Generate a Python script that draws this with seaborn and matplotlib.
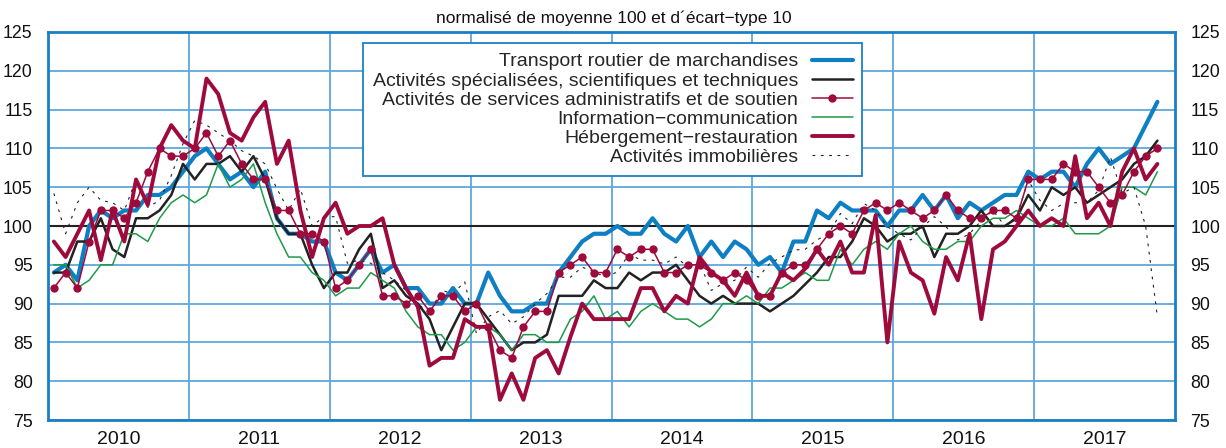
import matplotlib
matplotlib.use("Agg")
import matplotlib.pyplot as plt
import seaborn as sns
import pandas as pd

# ---------------- data (monthly, Jan 2010 - Nov 2017) ----------------
year_labels = ["2010", "2011", "2012", "2013", "2014", "2015", "2016", "2017"]

transport = [94, 95, 93, 100, 102, 101, 102, 102, 104, 104, 105, 107, 109, 110, 108, 106,
             107, 105, 107, 101, 99, 99, 98, 98, 94, 93, 95, 97, 94, 95, 92, 92,
             90, 90, 92, 90, 90, 94, 91, 89, 89, 90, 90, 94, 96, 98, 99, 99,
             100, 99, 99, 101, 99, 98, 100, 96, 98, 96, 98, 97, 95, 96, 94, 98,
             98, 102, 101, 103, 102, 102, 102, 100, 102, 102, 104, 102, 104, 101, 103, 102,
             103, 104, 104, 107, 106, 107, 107, 105, 108, 110, 108, 109, 110, 113, 116]

specialisees = [94, 94, 98, 98, 101, 97, 96, 101, 101, 102, 104, 108, 106, 108, 108, 109,
                107, 109, 106, 101, 99, 99, 95, 92, 94, 94, 97, 99, 92, 93, 91, 90,
                88, 84, 87, 90, 90, 88, 86, 84, 85, 85, 86, 91, 91, 91, 93, 92,
                92, 94, 93, 94, 94, 95, 93, 91, 90, 91, 90, 90, 90, 89, 90, 91,
                92.5, 94, 96, 96, 98, 101, 100, 98, 99, 99, 100, 96, 99, 99, 100, 102,
                100, 100, 101, 104, 102, 105, 104, 105, 103, 104, 105, 106, 108, 109, 111]

admin = [92, 94, 92, 98, 102, 102, 101, 103, 107, 110, 109, 109, 110, 112, 109, 111,
         108, 106, 106, 102, 102, 99, 99, 98, 92, 93, 95, 97, 91, 91, 90, 91,
         89, 91, 91, 89, 90, 87, 84, 83, 87, 89, 89, 94, 95, 96, 94, 94,
         97, 96, 97, 97, 94, 94, 95, 95, 94, 93, 94, 93, 91, 91, 94, 95,
         95, 97, 99, 100, 99, 102, 103, 102, 103, 102, 101, 102, 104, 102, 101, 101,
         102, 102, 101, 106, 106, 106, 108, 107, 107, 105, 103, 104, 107, 109, 110]

info_comm = [95, 95, 92, 93, 95, 95, 99, 99, 98, 101, 103, 104, 103, 104, 108, 105,
             106, 108, 103, 99, 96, 96, 94, 93, 91, 92, 92, 94, 93, 92, 89, 87,
             86, 86, 84, 85, 87, 87, 86, 84, 86, 86, 85, 85, 88, 89, 91, 88,
             89, 87, 89, 90, 89, 88, 88, 87, 88, 90, 90, 91, 90, 92, 92, 93,
             94, 93, 93, 97, 95, 97, 98, 97, 99, 100, 98, 97, 97, 98, 98, 100,
             101, 101, 102, 101, 100, 100, 101, 99, 99, 99, 100, 105, 105, 104, 107]

hebergement = [98, 96, 99, 102, 95.6, 102, 98, 106, 102.7, 110, 113, 111, 110, 119, 117, 112,
               111, 114, 116, 108, 111, 102, 96, 101, 103, 99, 100, 100, 101, 95, 92, 89.6,
               82, 83, 83, 88, 87, 87, 77.6, 81, 77.6, 83, 84, 81, 85.7, 90, 88, 88,
               88, 88, 92, 92, 89, 91, 90, 96, 94, 93, 91, 94, 91, 91, 94, 93,
               94.5, 97, 95, 98, 94, 94, 101.4, 85, 98, 94, 93, 88.7, 96, 93, 99, 88,
               97, 98, 100, 102, 100, 101, 100, 109, 101, 103, 100, 107, 110, 106, 108]

immobilieres = [104.2, 99, 103, 105, 103.3, 103, 102, 106, 102.4, 103.3, 106.5, 110.6, 113.6, 113, 112, 111,
                109.7, 109, 108, 104.8, 102, 104.8, 100, 101.2, 101.2, 95.2, 95.6, 95.2, 94, 93, 91.7, 90,
                88.7, 91.7, 91.3, 92.8, 86.1, 88.3, 89.1, 87.4, 88.3, 90, 91.3, 93.4, 93.4, 94.7, 94.1, 93.4,
                94.1, 96.4, 95.6, 95.6, 95.1, 96, 94.7, 95.2, 91.7, 92.6, 93, 94.7, 93.4, 95.2, 96, 96.9,
                97, 98.2, 99, 101.6, 100.3, 102.9, 102, 99.9, 99, 98.2, 99.9, 101.2, 99.9, 98.2, 99, 100.7,
                102, 100, 101.2, 105.9, 103.3, 102, 102.9, 103, 103, 104.6, 108.9, 104.2, 105, 100, 88.3]

labels = ["Transport routier de marchandises",
          "Activités spécialisées, scientifiques et techniques",
          "Activités de services administratifs et de soutien",
          "Information\u2212communication",
          "Hébergement\u2212restauration",
          "Activités immobilières"]

# ---------------- build dataframe ----------------
dates = pd.date_range("2010-01-01", periods=len(transport), freq="MS")
xpos = dates.year + (dates.month - 0.5) / 12.0
df = pd.DataFrame({"x": xpos, labels[0]: transport, labels[1]: specialisees,
                   labels[2]: admin, labels[3]: info_comm, labels[4]: hebergement,
                   labels[5]: immobilieres})

BLUE = "#0f7fc4"
SPINE = "#1a80c6"
CRIMSON = "#9f0a3d"
GREEN = "#1e9a48"
BLACK = "#222222"
GRID = "#5ea7dc"

sns.set_style("white")
plt.rcParams["font.family"] = ["Liberation Sans", "DejaVu Sans"]

fig, ax = plt.subplots(figsize=(12.26, 4.48), dpi=100)
fig.subplots_adjust(left=48 / 1226, right=1175 / 1226, top=1 - 32 / 448, bottom=1 - 420 / 448)

styles = {
    labels[0]: dict(color=BLUE, lw=3.0, zorder=3),
    labels[1]: dict(color=BLACK, lw=1.8, zorder=3),
    labels[2]: dict(color=CRIMSON, lw=1.1, marker="o", markersize=6, markeredgewidth=0, zorder=5),
    labels[3]: dict(color=GREEN, lw=1.1, zorder=3),
    labels[4]: dict(color=CRIMSON, lw=2.8, zorder=4),
    labels[5]: dict(color=BLACK, lw=0.8, dashes=(2.5, 5), zorder=3),
}
order_draw = [labels[0], labels[1], labels[3], labels[5], labels[4], labels[2]]
for lab in order_draw:
    st = dict(styles[lab])
    dashes = st.pop("dashes", None)
    sns.lineplot(data=df, x="x", y=lab, ax=ax, label=lab, **st)
    if dashes is not None:
        ax.lines[-1].set_dashes(dashes)

ax.axhline(100, color=BLACK, lw=1.5, zorder=2)

ax.set_xlim(2010, 2018)
ax.set_ylim(75, 125)
ax.set_yticks(range(75, 126, 5))
ax.set_xticks(range(2011, 2018))
ax.set_xticklabels([])
ax.set_xticks([int(y) + 0.5 for y in year_labels], minor=True)
ax.set_xticklabels(year_labels, minor=True)
ax.grid(axis="y", color=GRID, lw=1.3, zorder=1)
ax.grid(axis="x", which="major", color=GRID, lw=1.3, zorder=1)
ax.set_axisbelow(True)
ax.tick_params(axis="y", which="both", length=0, labelleft=True, labelright=True,
               labelsize=12.8, pad=11, colors="#111111")
ax.tick_params(axis="x", which="both", length=0, labelsize=14, pad=8, colors="#111111")
ax.set_xlabel("")
ax.set_ylabel("")
for sp in ax.spines.values():
    sp.set_color(SPINE)
    sp.set_linewidth(2.0)
    sp.set_visible(True)

fig.text(614 / 1226, 1 - 18 / 448, "normalisé de moyenne 100 et d\u00b4écart\u2212type 10",
         ha="center", va="center", fontsize=12.5, color="#111111")

handles_map = {l.get_label(): l for l in ax.lines}
leg_handles = [handles_map[l] for l in labels]
leg = ax.legend(leg_handles, labels, loc="upper left",
                bbox_to_anchor=((363 - 48) / 1127, 1 - (43 - 32) / 388),
                borderaxespad=0, markerfirst=False, fontsize=14, frameon=True,
                fancybox=False, framealpha=1, edgecolor=SPINE, labelspacing=0.08,
                handlelength=2.1, handletextpad=0.7, borderpad=0.5)
leg.get_frame().set_linewidth(1.3)
for t in leg.get_texts():
    t.set_ha("right")
leg._legend_box.align = "right"
leg.set_zorder(10)

fig.savefig("out.png", dpi=100)
